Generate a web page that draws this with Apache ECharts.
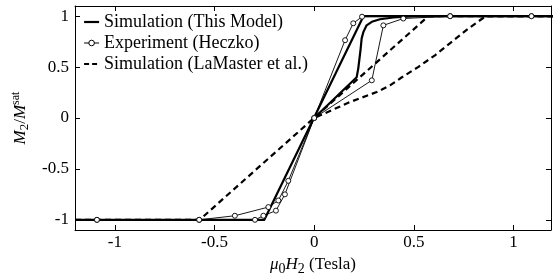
<!DOCTYPE html>
<html>
<head>
<meta charset="utf-8">
<script src="https://cdn.jsdelivr.net/npm/echarts@6/dist/echarts.min.js"></script>
<style>
    html, body {margin: 0; padding: 0; background: #fff;}
    #container {width: 553px; height: 277px;}
</style>
</head>
<body>
<div id="container"></div>
<script>
// data: [mu0*H2 (T), M2/Msat]
let modelUp = [[-1.2, -1], [-0.25, -1], [0.247, 1], [1.2, 1]];
let modelDown = [[1.2, 1], [0.5, 1], [0.397, 0.987], [0.33, 0.97], [0.289, 0.945], [0.263, 0.91],
    [0.247, 0.846], [0.238, 0.78], [0.233, 0.68], [0.221, 0.485], [0.213, 0.40], [0, 0]];
let heczkoUp = [[-1.09, -1], [-0.577, -1], [-0.398, -0.96], [-0.23, -0.875], [-0.18, -0.81],
    [-0.13, -0.617], [0, 0], [0.155, 0.764], [0.196, 0.93], [0.24, 0.995], [0.682, 1], [1.09, 1]];
let heczkoDown = [[1.09, 1], [0.682, 1], [0.447, 0.977], [0.347, 0.91], [0.289, 0.37], [0, 0],
    [-0.147, -0.75], [-0.192, -0.91], [-0.255, -0.96], [-0.297, -1], [-0.577, -1], [-1.09, -1]];
let lamasterUp = [[-1.2, -1], [-0.575, -1], [0.573, 1], [1.2, 1]];
let lamasterDown = [[1.2, 1], [0.86, 1], [0.774, 0.879], [0.69, 0.748], [0.606, 0.616], [0.523, 0.502],
    [0.44, 0.40], [0.38, 0.32], [0.314, 0.255], [0.18, 0.157], [0, 0]];
let xTicks = [-1, -0.5, 0, 0.5, 1];
let yTicks = [-1, -0.5, 0, 0.5, 1];
let names = ['Simulation (This Model)', 'Experiment (Heczko)', 'Simulation (LaMaster et al.)'];

let dom = document.getElementById("container");
let myChart = echarts.init(dom);
let font = 'Liberation Serif';

let solid = {color: '#000', width: 2.2};
let thin = {color: '#000', width: 0.9};
let dashed = {color: '#000', width: 2.2, type: [6, 4]};

function mirrorAxis(pos, ticks) {
    return {
        type: 'value',
        position: pos,
        axisLine: {show: true, onZero: false, lineStyle: {color: '#000', width: 1}},
        axisTick: {show: true, inside: true, length: 5, customValues: ticks, lineStyle: {color: '#000'}},
        axisLabel: {show: false},
        splitLine: {show: false}
    };
}

let option = {
    backgroundColor: '#fff',
    animation: false,
    textStyle: {fontFamily: font, color: '#000'},
    grid: {left: 75, right: 2, top: 6, bottom: 47, outerBoundsMode: 'none'},
    legend: {
        data: [
            {name: names[0], icon: 'line', itemStyle: {borderColor: '#000', borderWidth: 2.2}},
            {name: names[1], lineStyle: {width: 1}, itemStyle: {borderWidth: 1}},
            {name: names[2], icon: 'line', itemStyle: {borderColor: '#000', borderWidth: 2.2, borderType: [5, 3]}}
        ],
        orient: 'vertical',
        left: 78,
        top: 8,
        itemGap: 3,
        itemWidth: 15,
        itemHeight: 7,
        textStyle: {fontFamily: font, fontSize: 18, color: '#000'}
    },
    xAxis: [
        {
            type: 'value',
            min: -1.2,
            max: 1.188,
            position: 'bottom',
            name: '{i|μ}{s|0}{i|H}{s|2}{n| (Tesla)}',
            nameLocation: 'middle',
            nameGap: 17,
            nameTextStyle: {
                rich: {
                    i: {fontFamily: font, fontSize: 17, fontStyle: 'italic', color: '#000'},
                    s: {fontFamily: font, fontSize: 14, color: '#000', padding: [9, 0, 0, 0]},
                    n: {fontFamily: font, fontSize: 17, color: '#000'}
                }
            },
            axisLine: {onZero: false, lineStyle: {color: '#000', width: 1}},
            axisTick: {inside: true, length: 5, customValues: xTicks, lineStyle: {color: '#000'}},
            axisLabel: {customValues: xTicks, margin: 4, fontSize: 17, fontFamily: font, color: '#000'},
            splitLine: {show: false}
        },
        Object.assign(mirrorAxis('top', xTicks), {min: -1.2, max: 1.188})
    ],
    yAxis: [
        {
            type: 'value',
            min: -1.1,
            max: 1.1,
            position: 'left',
            name: '{i|M}{s|2}{n|/}{i|M}{p|sat}',
            nameLocation: 'middle',
            nameRotate: 90,
            nameGap: 34,
            nameTextStyle: {
                rich: {
                    i: {fontFamily: font, fontSize: 17, fontStyle: 'italic', color: '#000'},
                    s: {fontFamily: font, fontSize: 13, color: '#000', padding: [9, 0, 0, 0]},
                    p: {fontFamily: font, fontSize: 12, color: '#000', padding: [0, 0, 9, 0]},
                    n: {fontFamily: font, fontSize: 17, color: '#000'}
                }
            },
            axisLine: {onZero: false, lineStyle: {color: '#000', width: 1}},
            axisTick: {inside: true, length: 5, customValues: yTicks, lineStyle: {color: '#000'}},
            axisLabel: {customValues: yTicks, margin: 6, fontSize: 17, fontFamily: font, color: '#000'},
            splitLine: {show: false}
        },
        Object.assign(mirrorAxis('right', yTicks), {min: -1.1, max: 1.1})
    ],
    series: [
        {name: names[0], type: 'line', data: modelUp, symbol: 'none', lineStyle: solid, itemStyle: {color: '#000'}, z: 3},
        {name: names[0], type: 'line', data: modelDown, symbol: 'none', lineStyle: solid, itemStyle: {color: '#000'}, z: 3},
        {name: names[1], type: 'line', data: heczkoUp, symbol: 'circle', symbolSize: 5, showAllSymbol: true,
            lineStyle: thin, itemStyle: {color: '#fff', borderColor: '#000', borderWidth: 0.9}, z: 4},
        {name: names[1], type: 'line', data: heczkoDown, symbol: 'circle', symbolSize: 5, showAllSymbol: true,
            lineStyle: thin, itemStyle: {color: '#fff', borderColor: '#000', borderWidth: 0.9}, z: 4},
        {name: names[2], type: 'line', data: lamasterUp, symbol: 'none', lineStyle: dashed, itemStyle: {color: '#000'}, z: 2},
        {name: names[2], type: 'line', data: lamasterDown, symbol: 'none', lineStyle: dashed, itemStyle: {color: '#000'}, z: 2}
    ]
};
myChart.setOption(option, true);
</script>
</body>
</html>
